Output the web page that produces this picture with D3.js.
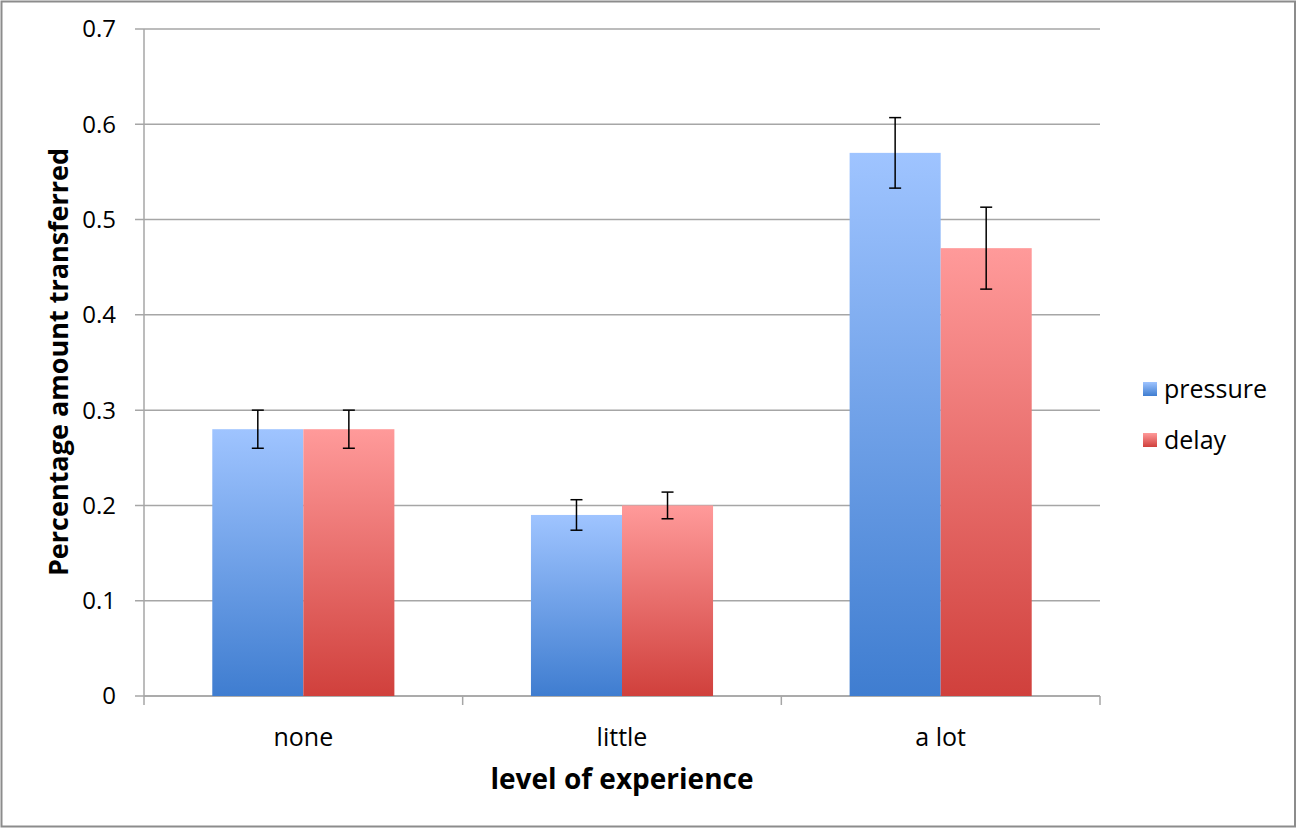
<!DOCTYPE html>
<html lang="en">
<head>
  <meta charset="UTF-8" />
  <title>Percentage amount transferred by level of experience</title>
  <script src="https://d3js.org/d3.v7.min.js"></script>
  <style>
    body { margin: 0; background: #fff; }
    svg text { font-family: "Open Sans", "DejaVu Sans", sans-serif; fill: #000; }
  </style>
</head>
<body>
  <svg width="1297" height="829"></svg>

  <script>
    const categories = ["none", "little", "a lot"];
    const seriesNames = ["pressure", "delay"];
    const pressure = [0.28, 0.19, 0.57];
    const delay = [0.28, 0.20, 0.47];
    const pressureErr = [0.02, 0.016, 0.037];
    const delayErr = [0.02, 0.014, 0.043];
    const yTicks = [0, 0.1, 0.2, 0.3, 0.4, 0.5, 0.6, 0.7];

    const margin = { top: 29, right: 197, bottom: 133, left: 144 },
          width = 1297 - margin.left - margin.right,
          height = 829 - margin.top - margin.bottom;

    const root = d3.select("svg");

    // outer frame
    root.append("rect")
      .attr("x", 1.5).attr("y", 1.5)
      .attr("width", 1293.5).attr("height", 825)
      .attr("fill", "none")
      .attr("stroke", "#8c8c8c")
      .attr("stroke-width", 2);

    const defs = root.append("defs");
    const grads = [["gradPressure", "#9fc4ff", "#3f7dd0"], ["gradDelay", "#ff9a9a", "#d0403c"]];
    grads.forEach(([id, top, bottom]) => {
      const g = defs.append("linearGradient").attr("id", id)
        .attr("x1", 0).attr("y1", 0).attr("x2", 0).attr("y2", 1);
      g.append("stop").attr("offset", "0%").attr("stop-color", top);
      g.append("stop").attr("offset", "100%").attr("stop-color", bottom);
    });
    const fills = ["url(#gradPressure)", "url(#gradDelay)"];

    const svg = root.append("g")
      .attr("transform", `translate(${margin.left},${margin.top})`);

    const x = d3.scaleBand()
      .domain(categories)
      .range([0, width])
      .paddingInner(0)
      .paddingOuter(0);

    const xInner = d3.scaleBand()
      .domain(seriesNames)
      .range([0, x.bandwidth()])
      .paddingOuter(0.75)
      .paddingInner(0);

    const y = d3.scaleLinear()
      .domain([0, 0.7])
      .range([height, 0]);

    // gridlines
    svg.append("g")
      .selectAll("line")
      .data(yTicks)
      .enter()
      .append("line")
      .attr("x1", -9)
      .attr("x2", width)
      .attr("y1", d => y(d))
      .attr("y2", d => y(d))
      .attr("stroke", "#a6a6a6")
      .attr("stroke-width", 1.5);

    // y axis line and labels
    svg.append("line")
      .attr("x1", 0).attr("x2", 0)
      .attr("y1", 0).attr("y2", height)
      .attr("stroke", "#a6a6a6")
      .attr("stroke-width", 1.5);

    svg.append("g")
      .selectAll("text")
      .data(yTicks)
      .enter()
      .append("text")
      .attr("x", -28)
      .attr("y", d => y(d))
      .attr("dy", "0.35em")
      .attr("text-anchor", "end")
      .style("font-size", "24px")
      .text(d => d3.format("")(d));

    // x axis
    const xAxis = svg.append("g")
      .attr("transform", `translate(0,${height})`);
    xAxis.append("line")
      .attr("x1", 0).attr("x2", width)
      .attr("stroke", "#a6a6a6")
      .attr("stroke-width", 1.5);
    xAxis.selectAll(".tick")
      .data(categories.map(c => x(c)).concat([width]))
      .enter()
      .append("line")
      .attr("x1", d => d).attr("x2", d => d)
      .attr("y1", 0).attr("y2", 9)
      .attr("stroke", "#a6a6a6")
      .attr("stroke-width", 1.5);
    xAxis.selectAll(".label")
      .data(categories)
      .enter()
      .append("text")
      .attr("x", d => x(d) + x.bandwidth() / 2)
      .attr("y", 50)
      .attr("text-anchor", "middle")
      .style("font-size", "25px")
      .text(d => d);

    // bars
    const rows = categories.map((c, i) => ({
      cat: c,
      vals: [
        { s: "pressure", v: pressure[i], e: pressureErr[i], f: fills[0] },
        { s: "delay", v: delay[i], e: delayErr[i], f: fills[1] }
      ]
    }));

    const groups = svg.selectAll(".grp")
      .data(rows)
      .enter()
      .append("g")
      .attr("class", "grp")
      .attr("transform", d => `translate(${x(d.cat)},0)`);

    groups.selectAll("rect")
      .data(d => d.vals)
      .enter()
      .append("rect")
      .attr("x", d => xInner(d.s))
      .attr("y", d => y(d.v))
      .attr("width", xInner.bandwidth())
      .attr("height", d => height - y(d.v))
      .attr("fill", d => d.f);

    // error bars
    groups.each(function(d) {
      const g = d3.select(this);
      d.vals.forEach(b => {
        const cx = xInner(b.s) + xInner.bandwidth() / 2;
        g.append("line")
          .attr("x1", cx).attr("x2", cx)
          .attr("y1", y(b.v + b.e)).attr("y2", y(b.v - b.e))
          .attr("stroke", "#000").attr("stroke-width", 1.5);
        [b.v + b.e, b.v - b.e].forEach(v => {
          g.append("line")
            .attr("x1", cx - 6).attr("x2", cx + 6)
            .attr("y1", y(v)).attr("y2", y(v))
            .attr("stroke", "#000").attr("stroke-width", 1.5);
        });
      });
    });

    // legend
    const legend = root.append("g").attr("transform", "translate(1143,382)");
    seriesNames.forEach((s, i) => {
      const row = legend.append("g").attr("transform", `translate(0,${i * 51})`);
      row.append("rect")
        .attr("width", 14).attr("height", 14)
        .attr("fill", fills[i]);
      row.append("text")
        .attr("x", 21).attr("y", 7)
        .attr("dy", "0.35em")
        .style("font-size", "25px")
        .text(s);
    });

    // axis titles
    root.append("text")
      .attr("transform", "translate(68,362) rotate(-90)")
      .attr("text-anchor", "middle")
      .style("font-size", "27px")
      .style("font-weight", "bold")
      .text("Percentage amount transferred");

    root.append("text")
      .attr("x", 622)
      .attr("y", 789)
      .attr("text-anchor", "middle")
      .style("font-size", "28px")
      .style("font-weight", "bold")
      .text("level of experience");
  </script>
</body>
</html>
